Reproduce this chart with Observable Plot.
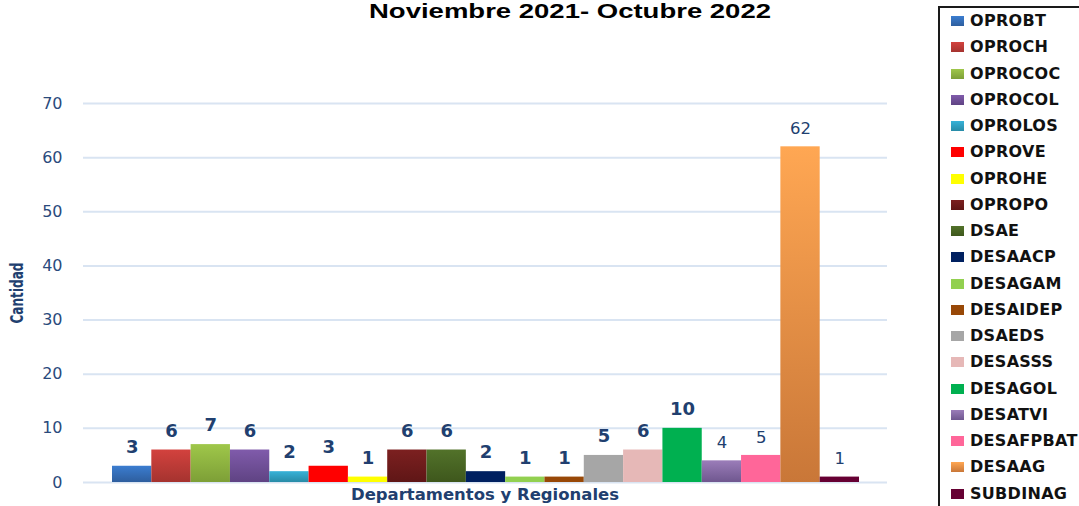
<!DOCTYPE html>
<html>
<head>
<meta charset="utf-8">
<script src="https://cdn.jsdelivr.net/npm/d3@7"></script>
<script src="https://cdn.jsdelivr.net/npm/@observablehq/plot@0.6"></script>
<style>
  body { margin: 0; background: #fff; }
  #wrap { position: relative; width: 1079px; height: 506px; overflow: hidden; background: #fff; }
  #chart { position: absolute; left: 0; top: 0; }
  #legend { position: absolute; left: 938px; top: 6px; width: 160px; height: 520px;
            border-left: 2px solid #1a1a1a; border-top: 2px solid #1a1a1a; background: #fff; }
  .li { position: absolute; left: 0; height: 20px; width: 150px; }
  .sw { position: absolute; left: 11px; top: 5px; width: 13px; height: 10px; }
  .lt { position: absolute; left: 30px; top: 0; line-height: 20px; font: bold 16px "DejaVu Sans", sans-serif;
        color: #111; white-space: nowrap; letter-spacing: 0.3px; }
</style>
</head>
<body>
<div id="wrap">
  <div id="chart"></div>
  <div id="legend"></div>
</div>
<script>
// ---- data ----
const categories = ["OPROBT","OPROCH","OPROCOC","OPROCOL","OPROLOS","OPROVE","OPROHE","OPROPO","DSAE","DESAACP",
                    "DESAGAM","DESAIDEP","DSAEDS","DESASSS","DESAGOL","DESATVI","DESAFPBAT","DESAAG","SUBDINAG"];
const values = [3, 6, 7, 6, 2, 3, 1, 6, 6, 2, 1, 1, 5, 6, 10, 4, 5, 62, 1];
const yTicks = [0, 10, 20, 30, 40, 50, 60, 70];
const titleText = "Noviembre 2021- Octubre 2022";
const yLabel = "Cantidad";
const xLabel = "Departamentos y Regionales";

// palette (top / bottom of each bar's gradient)
const colorsTop = ["#3b7dd0","#d3423e","#9fc74a","#805bab","#37b2d8","#ff0000","#ffff00","#7c2020","#52722a","#002060",
                   "#92d050","#984807","#a6a6a6","#e6b8b7","#00b050","#9b7db9","#ff6699","#ffa753","#660033"];
const colorsBottom = ["#2e5e9e","#a5332f","#7d9f37","#5f4383","#288ba7","#ff0000","#ffff00","#5f1616","#3e571c","#002060",
                      "#92d050","#984807","#a6a6a6","#e6b8b7","#00b050","#6f578f","#ff6699","#c97738","#660033"];

const data = categories.map((c, i) => ({cat: c, value: values[i]}));
const plainLabels = new Set(["DESATVI", "DESAFPBAT", "DESAAG", "SUBDINAG"]);
const labelColor = "#213f6f";

const chart = Plot.plot({
  width: 1079,
  height: 506,
  marginLeft: 83,
  marginRight: 192,
  marginTop: 103,
  marginBottom: 24,
  style: { background: "transparent", fontFamily: "DejaVu Sans, sans-serif" },
  x: { domain: categories, range: [112, 859], padding: 0, round: false, axis: null },
  y: { domain: [0, 70], axis: null },
  color: { domain: categories, range: colorsTop },
  marks: [
    Plot.ruleY(yTicks, { stroke: "#d9e4f2", strokeWidth: 2 }),
    Plot.axisY(yTicks, { tickSize: 0, tickPadding: 21, fontSize: 16, fill: "#2a4a7c", label: null }),
    Plot.barY(data, { x: "cat", y: "value", fill: "cat" }),
    Plot.text(data.filter(d => !plainLabels.has(d.cat)), {
      x: "cat", y: "value", text: d => String(d.value), dy: -19,
      fontSize: 18, fontWeight: "bold", fill: labelColor
    }),
    Plot.text(data.filter(d => plainLabels.has(d.cat)), {
      x: "cat", y: "value", text: d => String(d.value), dy: -18,
      fontSize: 16.5, fill: labelColor
    })
  ]
});
document.getElementById("chart").appendChild(chart);

// gradients for bars
const svg = d3.select(chart);
const defs = svg.insert("defs", ":first-child");
categories.forEach((c, i) => {
  const g = defs.append("linearGradient").attr("id", "grad" + i)
    .attr("x1", 0).attr("y1", 0).attr("x2", 0).attr("y2", 1);
  g.append("stop").attr("offset", "0%").attr("stop-color", colorsTop[i]);
  g.append("stop").attr("offset", "100%").attr("stop-color", colorsBottom[i]);
});
svg.selectAll('g[aria-label="bar"] rect').each(function(d, k) {
  const idx = typeof d === "number" ? d : k;
  d3.select(this).attr("fill", "url(#grad" + idx + ")");
});

// title & axis labels
svg.append("text").text(titleText)
  .attr("x", 570).attr("y", 18).attr("text-anchor", "middle")
  .attr("textLength", 402).attr("lengthAdjust", "spacingAndGlyphs")
  .style("font", "bold 20px 'Liberation Sans', Arial, sans-serif").attr("fill", "#000");
svg.append("text").text(xLabel)
  .attr("x", 485).attr("y", 500).attr("text-anchor", "middle")
  .attr("textLength", 268).attr("lengthAdjust", "spacingAndGlyphs")
  .style("font", "bold 16px 'DejaVu Sans', sans-serif").attr("fill", labelColor);
svg.append("text").text(yLabel)
  .attr("transform", "translate(17,293) rotate(-90)")
  .attr("text-anchor", "middle").attr("dominant-baseline", "central")
  .attr("textLength", 61).attr("lengthAdjust", "spacingAndGlyphs")
  .style("font", "bold 17px 'Liberation Sans Narrow', 'DejaVu Sans Condensed', sans-serif").attr("fill", labelColor);

// legend
const legend = d3.select("#legend");
categories.forEach((c, i) => {
  const cy = 21 + i * 26.25 - 8;
  const item = legend.append("div").attr("class", "li").style("top", (cy - 10) + "px");
  item.append("div").attr("class", "sw")
    .style("background", `linear-gradient(${colorsTop[i]}, ${colorsBottom[i]})`);
  item.append("div").attr("class", "lt").text(c);
});
</script>
</body>
</html>
